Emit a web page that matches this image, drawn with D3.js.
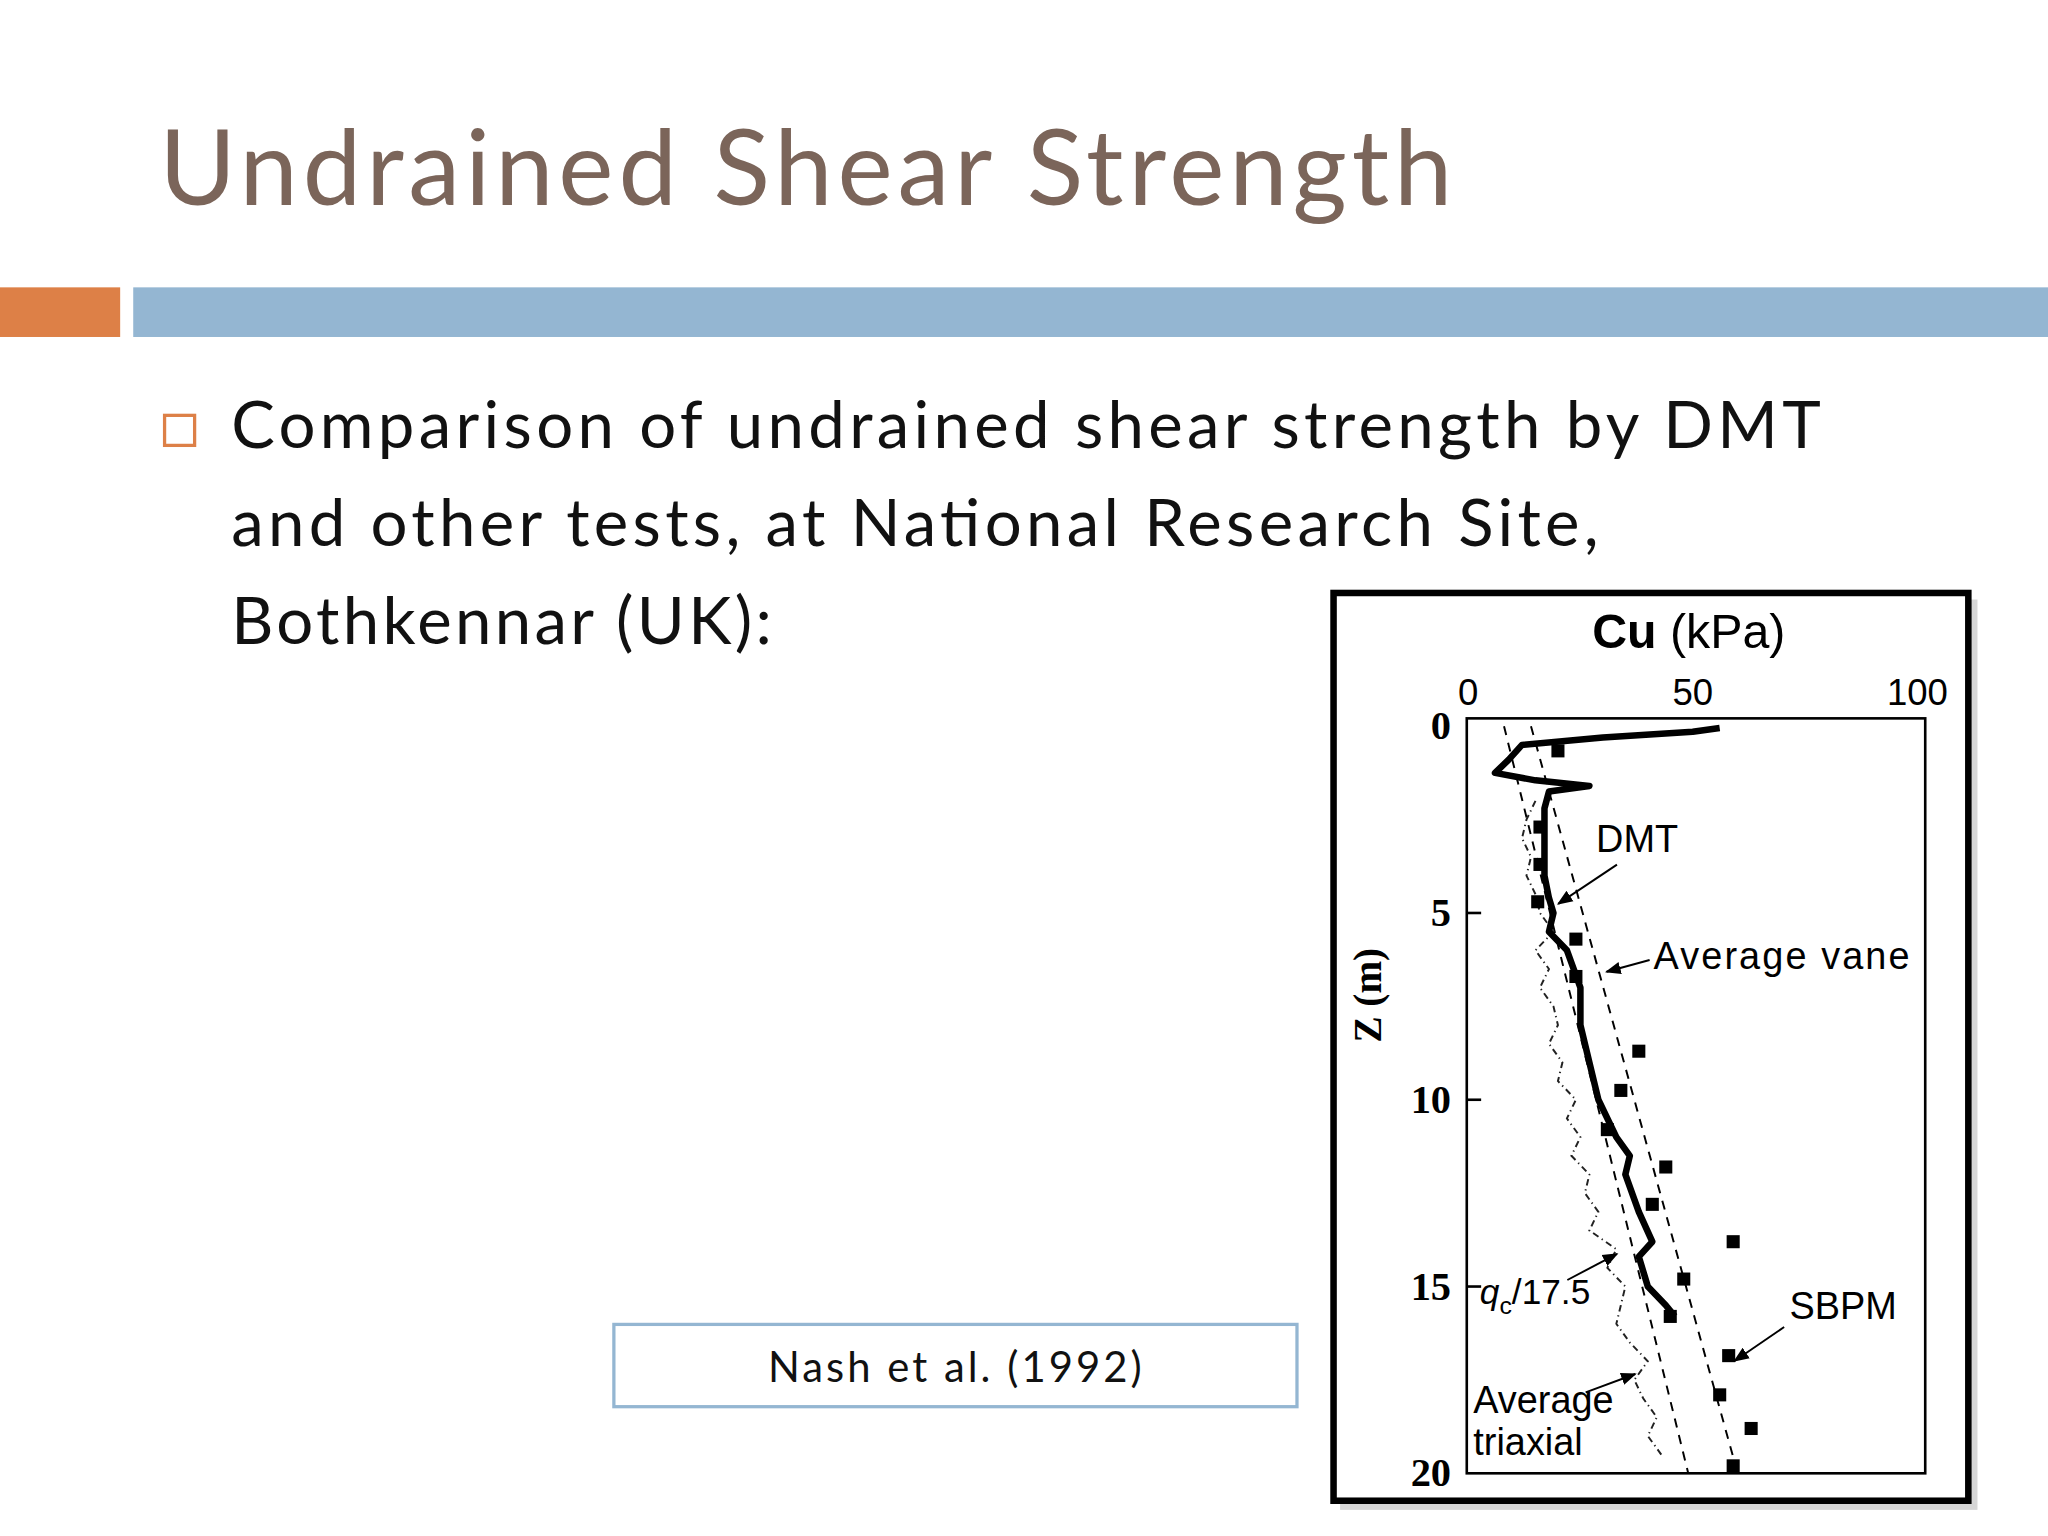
<!DOCTYPE html>
<html><head><meta charset="utf-8">
<script src="https://cdn.jsdelivr.net/npm/d3@7"></script>
<style>body{margin:0;background:#fff}</style>
</head><body><svg id="s"></svg>
<script>
// DMT profile (depth m, Cu kPa)
const dmtDepth = [0.05,0.15,0.3,0.5,0.9,1.25,1.45,1.6,1.75,2.2,3.0,4.0,4.6,5.0,5.5,6.0,7.0,8.0,9.0,10.0,11.0,11.5,12.0,13.0,13.8,14.2,15.0,15.5,15.8];
const dmtCu    = [56,50,30,12,9,6,15,27,18,17,17,17,18,19,18,22,25,25,27,29,33,36,35,38,41,38,40,44,46];
// qc/17.5 profile
const qcDepth = [2.0,2.5,3.0,3.5,4.0,4.5,5.0,5.5,6.0,6.5,7.0,7.5,8.0,8.5,9.0,9.5,10.0,10.5,11.0,11.5,12.0,12.5,13.0,13.5,14.0,14.5,15.0,15.5,16.0,16.5,17.0,17.5,18.0,18.5,19.0,19.5];
const qcCu    = [15,13,12,14,13,15,16,19,15,18,16,19,20,18,21,20,24,22,25,23,27,26,29,27,33,31,35,34,33,36,40,37,39,42,40,43];
// SBPM points
const sbpmDepth = [0.66,2.7,3.7,4.7,5.7,6.7,8.7,9.75,10.8,11.8,12.8,13.8,14.8,15.8,16.85,17.9,18.8,19.8];
const sbpmCu    = [20,16,16,15.5,24,24,38,34,31,44,41,59,48,45,58,56,63,59];
// average lines (depth, Cu)
const vaneDepth = [0,20], vaneCu = [14,60];
const triaxDepth = [0,20], triaxCu = [8,49];
const xTicks = [0,50,100], yTicks = [0,5,10,15,20];

const svg = d3.select('#s').attr('width',2048).attr('height',1536).attr('viewBox','0 0 1568 1176');
const sans = 'Liberation Sans, Arial, sans-serif';
const slideFont = 'Lato, "Open Sans", sans-serif';

// slide decoration
svg.append('text').attr('x',122).attr('y',157).attr('font-family',slideFont)
  .attr('font-size',80).attr('fill','#7b655a').attr('textLength',990).attr('lengthAdjust','spacing').text('Undrained Shear Strength');
svg.append('rect').attr('x',0).attr('y',220).attr('width',92).attr('height',38).attr('fill','#dd8047');
svg.append('rect').attr('x',102).attr('y',220).attr('width',1466).attr('height',38).attr('fill','#94b6d2');
svg.append('rect').attr('x',126).attr('y',318).attr('width',23).attr('height',23).attr('fill','none').attr('stroke','#dd8047').attr('stroke-width',2.5);
const body = ['Comparison of undrained shear strength by DMT','and other tests, at National Research Site,','Bothkennar (UK):'];
const bodyLen = [1217,1047,414];
body.forEach((t,i)=>
  svg.append('text').attr('x',177).attr('y',343+i*75).attr('font-family',slideFont)
    .attr('font-size',50).attr('fill','#111').attr('textLength',bodyLen[i]).attr('lengthAdjust','spacing').text(t));
svg.append('rect').attr('x',470).attr('y',1014).attr('width',523).attr('height',63).attr('fill','#fff').attr('stroke','#94b6d2').attr('stroke-width',2.5);
svg.append('text').attr('x',731).attr('y',1058).attr('text-anchor','middle').attr('font-family',slideFont)
  .attr('font-size',32).attr('fill','#111').attr('textLength',286).attr('lengthAdjust','spacing').text('Nash et al. (1992)');

// chart frame
svg.append('rect').attr('x',1026).attr('y',459).attr('width',488).attr('height',697).attr('fill','#bbb').attr('opacity',0.6);
svg.append('rect').attr('x',1021).attr('y',454).attr('width',486).attr('height',695).attr('fill','#fff').attr('stroke','#000').attr('stroke-width',5);

const x = d3.scaleLinear().domain([0,100]).range([1124,1468]);
const y = d3.scaleLinear().domain([0,20]).range([556,1128]);
svg.append('rect').attr('x',1123).attr('y',550).attr('width',351).attr('height',578).attr('fill','none').attr('stroke','#000').attr('stroke-width',2);

const g = svg.append('g');
g.selectAll('.xt').data(xTicks).join('text').attr('x',d=>x(d)).attr('y',540).attr('text-anchor','middle')
  .attr('font-family',sans).attr('font-size',28).text(d=>d);
g.selectAll('.yt').data(yTicks).join('text').attr('x',1111).attr('y',d=>y(d)+10).attr('text-anchor','end')
  .attr('font-family','Liberation Serif, serif').attr('font-weight','bold').attr('font-size',31).text(d=>d);
g.selectAll('.ytk').data(yTicks.slice(1,4)).join('line').attr('x1',1123).attr('x2',1134).attr('y1',d=>y(d)).attr('y2',d=>y(d)).attr('stroke','#000').attr('stroke-width',2);
svg.append('text').attr('transform','translate(1057,762) rotate(-90)').attr('text-anchor','middle')
  .attr('font-family','Liberation Serif, serif').attr('font-weight','bold').attr('font-size',30).text('Z (m)');
const tt = svg.append('text').attr('x',1293).attr('y',496).attr('text-anchor','middle').attr('font-family',sans).attr('font-size',37);
tt.append('tspan').attr('font-weight','bold').text('Cu');
tt.append('tspan').text(' (kPa)');

const line = d3.line().x(d=>x(d[1])).y(d=>y(d[0]));
svg.append('defs').append('clipPath').attr('id','c').append('rect').attr('x',1123).attr('y',550).attr('width',351).attr('height',578);
const p = svg.append('g').attr('clip-path','url(#c)');
p.append('path').attr('d',line(d3.zip(vaneDepth,vaneCu))).attr('fill','none').attr('stroke','#000').attr('stroke-width',1.5).attr('stroke-dasharray','7,6');
p.append('path').attr('d',line(d3.zip(triaxDepth,triaxCu))).attr('fill','none').attr('stroke','#000').attr('stroke-width',1.5).attr('stroke-dasharray','7,6');
p.append('path').attr('d',line(d3.zip(qcDepth,qcCu))).attr('fill','none').attr('stroke','#222').attr('stroke-width',1.5).attr('stroke-dasharray','5,3,1,3');
p.append('path').attr('d',line(d3.zip(dmtDepth,dmtCu))).attr('fill','none').attr('stroke','#000').attr('stroke-width',5).attr('stroke-linejoin','round');
p.selectAll('.sq').data(d3.zip(sbpmDepth,sbpmCu)).join('rect').attr('x',d=>x(d[1])-5).attr('y',d=>y(d[0])-5).attr('width',10).attr('height',10).attr('fill','#000');

// annotations
svg.append('defs').append('marker').attr('id','ar').attr('viewBox','0 0 10 10').attr('refX',9).attr('refY',5)
  .attr('markerWidth',8).attr('markerHeight',8).attr('orient','auto').append('path').attr('d','M0,1L10,5L0,9z');
const ann = (x1,y1,x2,y2)=>svg.append('line').attr('x1',x1).attr('y1',y1).attr('x2',x2).attr('y2',y2).attr('stroke','#000').attr('stroke-width',1.5).attr('marker-end','url(#ar)');
const lab = (t,lx,ly)=>svg.append('text').attr('x',lx).attr('y',ly).attr('font-family',sans).attr('font-size',29).text(t);
lab('DMT',1222,652); ann(1238,662,1193,692);
lab('Average vane',1266,742).attr('textLength',196).attr('lengthAdjust','spacing'); ann(1263,735,1230,744);
lab('SBPM',1370,1010); ann(1366,1016,1328,1042);
lab('Average',1128,1082); lab('triaxial',1128,1114); ann(1214,1066,1252,1052);
const q = svg.append('text').attr('x',1133).attr('y',998).attr('font-family',sans).attr('font-size',27);
q.append('tspan').attr('font-style','italic').text('q');
q.append('tspan').attr('font-size',19).attr('dy',8).text('c');
q.append('tspan').attr('dy',-8).text('/17.5');
ann(1200,980,1238,960);
</script></body></html>
